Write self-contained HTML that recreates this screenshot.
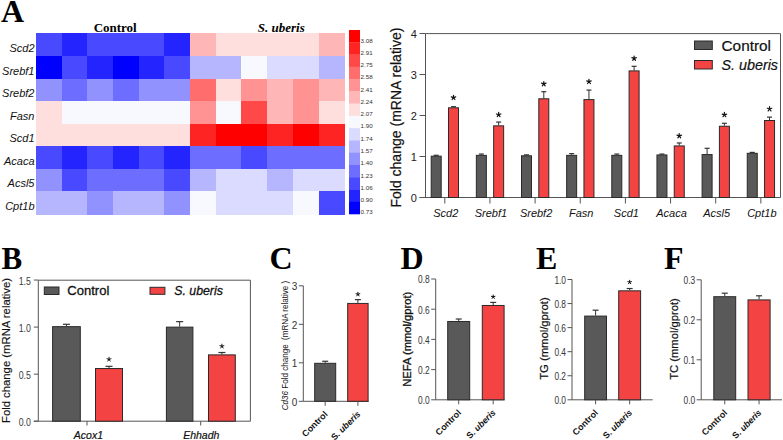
<!DOCTYPE html>
<html><head><meta charset="utf-8"><style>
html,body{margin:0;padding:0;background:#fff;width:783px;height:440px;overflow:hidden}
svg{display:block}
</style></head><body>
<svg width="783" height="440" viewBox="0 0 783 440">
<rect x="0" y="0" width="783" height="440" fill="#fff"/>
<rect x="36.00" y="33.40" width="26.28" height="23.18" fill="#4949ff" shape-rendering="crispEdges"/>
<rect x="61.68" y="33.40" width="26.28" height="23.18" fill="#2424ff" shape-rendering="crispEdges"/>
<rect x="87.37" y="33.40" width="26.28" height="23.18" fill="#4949ff" shape-rendering="crispEdges"/>
<rect x="113.05" y="33.40" width="26.28" height="23.18" fill="#4949ff" shape-rendering="crispEdges"/>
<rect x="138.73" y="33.40" width="26.28" height="23.18" fill="#4949ff" shape-rendering="crispEdges"/>
<rect x="164.42" y="33.40" width="26.28" height="23.18" fill="#2424ff" shape-rendering="crispEdges"/>
<rect x="190.10" y="33.40" width="26.28" height="23.18" fill="#ffb6b6" shape-rendering="crispEdges"/>
<rect x="215.78" y="33.40" width="26.28" height="23.18" fill="#ffdede" shape-rendering="crispEdges"/>
<rect x="241.47" y="33.40" width="26.28" height="23.18" fill="#ffdede" shape-rendering="crispEdges"/>
<rect x="267.15" y="33.40" width="26.28" height="23.18" fill="#ffdede" shape-rendering="crispEdges"/>
<rect x="292.83" y="33.40" width="26.28" height="23.18" fill="#ffdede" shape-rendering="crispEdges"/>
<rect x="318.52" y="33.40" width="26.28" height="23.18" fill="#ffb6b6" shape-rendering="crispEdges"/>
<rect x="36.00" y="55.97" width="26.28" height="23.18" fill="#0000ff" shape-rendering="crispEdges"/>
<rect x="61.68" y="55.97" width="26.28" height="23.18" fill="#4949ff" shape-rendering="crispEdges"/>
<rect x="87.37" y="55.97" width="26.28" height="23.18" fill="#2424ff" shape-rendering="crispEdges"/>
<rect x="113.05" y="55.97" width="26.28" height="23.18" fill="#0000ff" shape-rendering="crispEdges"/>
<rect x="138.73" y="55.97" width="26.28" height="23.18" fill="#2424ff" shape-rendering="crispEdges"/>
<rect x="164.42" y="55.97" width="26.28" height="23.18" fill="#4949ff" shape-rendering="crispEdges"/>
<rect x="190.10" y="55.97" width="26.28" height="23.18" fill="#b6b6ff" shape-rendering="crispEdges"/>
<rect x="215.78" y="55.97" width="26.28" height="23.18" fill="#b6b6ff" shape-rendering="crispEdges"/>
<rect x="241.47" y="55.97" width="26.28" height="23.18" fill="#f8f8ff" shape-rendering="crispEdges"/>
<rect x="267.15" y="55.97" width="26.28" height="23.18" fill="#dbdbff" shape-rendering="crispEdges"/>
<rect x="292.83" y="55.97" width="26.28" height="23.18" fill="#dbdbff" shape-rendering="crispEdges"/>
<rect x="318.52" y="55.97" width="26.28" height="23.18" fill="#b6b6ff" shape-rendering="crispEdges"/>
<rect x="36.00" y="78.55" width="26.28" height="23.18" fill="#9292ff" shape-rendering="crispEdges"/>
<rect x="61.68" y="78.55" width="26.28" height="23.18" fill="#6d6dff" shape-rendering="crispEdges"/>
<rect x="87.37" y="78.55" width="26.28" height="23.18" fill="#9292ff" shape-rendering="crispEdges"/>
<rect x="113.05" y="78.55" width="26.28" height="23.18" fill="#6d6dff" shape-rendering="crispEdges"/>
<rect x="138.73" y="78.55" width="26.28" height="23.18" fill="#9292ff" shape-rendering="crispEdges"/>
<rect x="164.42" y="78.55" width="26.28" height="23.18" fill="#9292ff" shape-rendering="crispEdges"/>
<rect x="190.10" y="78.55" width="26.28" height="23.18" fill="#ff6d6d" shape-rendering="crispEdges"/>
<rect x="215.78" y="78.55" width="26.28" height="23.18" fill="#ffdede" shape-rendering="crispEdges"/>
<rect x="241.47" y="78.55" width="26.28" height="23.18" fill="#ff9292" shape-rendering="crispEdges"/>
<rect x="267.15" y="78.55" width="26.28" height="23.18" fill="#ffb6b6" shape-rendering="crispEdges"/>
<rect x="292.83" y="78.55" width="26.28" height="23.18" fill="#ff9292" shape-rendering="crispEdges"/>
<rect x="318.52" y="78.55" width="26.28" height="23.18" fill="#ffb6b6" shape-rendering="crispEdges"/>
<rect x="36.00" y="101.12" width="26.28" height="23.18" fill="#ffdede" shape-rendering="crispEdges"/>
<rect x="61.68" y="101.12" width="26.28" height="23.18" fill="#f8f8ff" shape-rendering="crispEdges"/>
<rect x="87.37" y="101.12" width="26.28" height="23.18" fill="#f8f8ff" shape-rendering="crispEdges"/>
<rect x="113.05" y="101.12" width="26.28" height="23.18" fill="#f8f8ff" shape-rendering="crispEdges"/>
<rect x="138.73" y="101.12" width="26.28" height="23.18" fill="#f8f8ff" shape-rendering="crispEdges"/>
<rect x="164.42" y="101.12" width="26.28" height="23.18" fill="#f8f8ff" shape-rendering="crispEdges"/>
<rect x="190.10" y="101.12" width="26.28" height="23.18" fill="#ff9292" shape-rendering="crispEdges"/>
<rect x="215.78" y="101.12" width="26.28" height="23.18" fill="#f8f8ff" shape-rendering="crispEdges"/>
<rect x="241.47" y="101.12" width="26.28" height="23.18" fill="#ff4949" shape-rendering="crispEdges"/>
<rect x="267.15" y="101.12" width="26.28" height="23.18" fill="#ffb6b6" shape-rendering="crispEdges"/>
<rect x="292.83" y="101.12" width="26.28" height="23.18" fill="#ff9292" shape-rendering="crispEdges"/>
<rect x="318.52" y="101.12" width="26.28" height="23.18" fill="#ffdede" shape-rendering="crispEdges"/>
<rect x="36.00" y="123.70" width="26.28" height="23.18" fill="#ffdede" shape-rendering="crispEdges"/>
<rect x="61.68" y="123.70" width="26.28" height="23.18" fill="#ffdede" shape-rendering="crispEdges"/>
<rect x="87.37" y="123.70" width="26.28" height="23.18" fill="#ffdede" shape-rendering="crispEdges"/>
<rect x="113.05" y="123.70" width="26.28" height="23.18" fill="#ffdede" shape-rendering="crispEdges"/>
<rect x="138.73" y="123.70" width="26.28" height="23.18" fill="#ffdede" shape-rendering="crispEdges"/>
<rect x="164.42" y="123.70" width="26.28" height="23.18" fill="#ffdede" shape-rendering="crispEdges"/>
<rect x="190.10" y="123.70" width="26.28" height="23.18" fill="#ff2424" shape-rendering="crispEdges"/>
<rect x="215.78" y="123.70" width="26.28" height="23.18" fill="#ff0000" shape-rendering="crispEdges"/>
<rect x="241.47" y="123.70" width="26.28" height="23.18" fill="#ff0000" shape-rendering="crispEdges"/>
<rect x="267.15" y="123.70" width="26.28" height="23.18" fill="#ff2424" shape-rendering="crispEdges"/>
<rect x="292.83" y="123.70" width="26.28" height="23.18" fill="#ff0000" shape-rendering="crispEdges"/>
<rect x="318.52" y="123.70" width="26.28" height="23.18" fill="#ff2424" shape-rendering="crispEdges"/>
<rect x="36.00" y="146.28" width="26.28" height="23.18" fill="#4949ff" shape-rendering="crispEdges"/>
<rect x="61.68" y="146.28" width="26.28" height="23.18" fill="#2424ff" shape-rendering="crispEdges"/>
<rect x="87.37" y="146.28" width="26.28" height="23.18" fill="#4949ff" shape-rendering="crispEdges"/>
<rect x="113.05" y="146.28" width="26.28" height="23.18" fill="#2424ff" shape-rendering="crispEdges"/>
<rect x="138.73" y="146.28" width="26.28" height="23.18" fill="#4949ff" shape-rendering="crispEdges"/>
<rect x="164.42" y="146.28" width="26.28" height="23.18" fill="#2424ff" shape-rendering="crispEdges"/>
<rect x="190.10" y="146.28" width="26.28" height="23.18" fill="#6d6dff" shape-rendering="crispEdges"/>
<rect x="215.78" y="146.28" width="26.28" height="23.18" fill="#6d6dff" shape-rendering="crispEdges"/>
<rect x="241.47" y="146.28" width="26.28" height="23.18" fill="#4949ff" shape-rendering="crispEdges"/>
<rect x="267.15" y="146.28" width="26.28" height="23.18" fill="#6d6dff" shape-rendering="crispEdges"/>
<rect x="292.83" y="146.28" width="26.28" height="23.18" fill="#6d6dff" shape-rendering="crispEdges"/>
<rect x="318.52" y="146.28" width="26.28" height="23.18" fill="#6d6dff" shape-rendering="crispEdges"/>
<rect x="36.00" y="168.85" width="26.28" height="23.18" fill="#9292ff" shape-rendering="crispEdges"/>
<rect x="61.68" y="168.85" width="26.28" height="23.18" fill="#4949ff" shape-rendering="crispEdges"/>
<rect x="87.37" y="168.85" width="26.28" height="23.18" fill="#6d6dff" shape-rendering="crispEdges"/>
<rect x="113.05" y="168.85" width="26.28" height="23.18" fill="#6d6dff" shape-rendering="crispEdges"/>
<rect x="138.73" y="168.85" width="26.28" height="23.18" fill="#6d6dff" shape-rendering="crispEdges"/>
<rect x="164.42" y="168.85" width="26.28" height="23.18" fill="#4949ff" shape-rendering="crispEdges"/>
<rect x="190.10" y="168.85" width="26.28" height="23.18" fill="#b6b6ff" shape-rendering="crispEdges"/>
<rect x="215.78" y="168.85" width="26.28" height="23.18" fill="#dbdbff" shape-rendering="crispEdges"/>
<rect x="241.47" y="168.85" width="26.28" height="23.18" fill="#dbdbff" shape-rendering="crispEdges"/>
<rect x="267.15" y="168.85" width="26.28" height="23.18" fill="#b6b6ff" shape-rendering="crispEdges"/>
<rect x="292.83" y="168.85" width="26.28" height="23.18" fill="#dbdbff" shape-rendering="crispEdges"/>
<rect x="318.52" y="168.85" width="26.28" height="23.18" fill="#dbdbff" shape-rendering="crispEdges"/>
<rect x="36.00" y="191.43" width="26.28" height="23.18" fill="#b6b6ff" shape-rendering="crispEdges"/>
<rect x="61.68" y="191.43" width="26.28" height="23.18" fill="#b6b6ff" shape-rendering="crispEdges"/>
<rect x="87.37" y="191.43" width="26.28" height="23.18" fill="#9292ff" shape-rendering="crispEdges"/>
<rect x="113.05" y="191.43" width="26.28" height="23.18" fill="#b6b6ff" shape-rendering="crispEdges"/>
<rect x="138.73" y="191.43" width="26.28" height="23.18" fill="#b6b6ff" shape-rendering="crispEdges"/>
<rect x="164.42" y="191.43" width="26.28" height="23.18" fill="#9292ff" shape-rendering="crispEdges"/>
<rect x="190.10" y="191.43" width="26.28" height="23.18" fill="#f8f8ff" shape-rendering="crispEdges"/>
<rect x="215.78" y="191.43" width="26.28" height="23.18" fill="#dbdbff" shape-rendering="crispEdges"/>
<rect x="241.47" y="191.43" width="26.28" height="23.18" fill="#dbdbff" shape-rendering="crispEdges"/>
<rect x="267.15" y="191.43" width="26.28" height="23.18" fill="#dbdbff" shape-rendering="crispEdges"/>
<rect x="292.83" y="191.43" width="26.28" height="23.18" fill="#f8f8ff" shape-rendering="crispEdges"/>
<rect x="318.52" y="191.43" width="26.28" height="23.18" fill="#4949ff" shape-rendering="crispEdges"/>
<text x="34.50" y="51.99" font-family='"Liberation Sans", sans-serif' font-size="11" font-weight="normal" font-style="italic" text-anchor="end" fill="#111" >Scd2</text>
<text x="34.50" y="74.56" font-family='"Liberation Sans", sans-serif' font-size="11" font-weight="normal" font-style="italic" text-anchor="end" fill="#111" >Srebf1</text>
<text x="34.50" y="97.14" font-family='"Liberation Sans", sans-serif' font-size="11" font-weight="normal" font-style="italic" text-anchor="end" fill="#111" >Srebf2</text>
<text x="34.50" y="119.71" font-family='"Liberation Sans", sans-serif' font-size="11" font-weight="normal" font-style="italic" text-anchor="end" fill="#111" >Fasn</text>
<text x="34.50" y="142.29" font-family='"Liberation Sans", sans-serif' font-size="11" font-weight="normal" font-style="italic" text-anchor="end" fill="#111" >Scd1</text>
<text x="34.50" y="164.86" font-family='"Liberation Sans", sans-serif' font-size="11" font-weight="normal" font-style="italic" text-anchor="end" fill="#111" >Acaca</text>
<text x="34.50" y="187.44" font-family='"Liberation Sans", sans-serif' font-size="11" font-weight="normal" font-style="italic" text-anchor="end" fill="#111" >Acsl5</text>
<text x="34.50" y="210.01" font-family='"Liberation Sans", sans-serif' font-size="11" font-weight="normal" font-style="italic" text-anchor="end" fill="#111" >Cpt1b</text>
<text x="115.20" y="31.70" font-family='"Liberation Serif", serif' font-size="13" font-weight="bold" font-style="normal" text-anchor="middle" fill="#000" >Control</text>
<text x="281.30" y="31.70" font-family='"Liberation Serif", serif' font-size="13" font-weight="bold" font-style="italic" text-anchor="middle" fill="#000" >S. uberis</text>
<text x="1.00" y="21.60" font-family='"Liberation Serif", serif' font-size="32" font-weight="bold" font-style="normal" text-anchor="start" fill="#000" >A</text>
<rect x="349.00" y="30.00" width="11.00" height="12.57" fill="#ff0000" stroke="none" stroke-width="1"/>
<text x="360.60" y="42.57" font-family='"Liberation Sans", sans-serif' font-size="6.2" font-weight="normal" font-style="normal" text-anchor="start" fill="#333" >3.08</text>
<rect x="349.00" y="42.27" width="11.00" height="12.57" fill="#ff2424" stroke="none" stroke-width="1"/>
<text x="360.60" y="54.83" font-family='"Liberation Sans", sans-serif' font-size="6.2" font-weight="normal" font-style="normal" text-anchor="start" fill="#333" >2.91</text>
<rect x="349.00" y="54.53" width="11.00" height="12.57" fill="#ff4949" stroke="none" stroke-width="1"/>
<text x="360.60" y="67.10" font-family='"Liberation Sans", sans-serif' font-size="6.2" font-weight="normal" font-style="normal" text-anchor="start" fill="#333" >2.75</text>
<rect x="349.00" y="66.80" width="11.00" height="12.57" fill="#ff6d6d" stroke="none" stroke-width="1"/>
<text x="360.60" y="79.37" font-family='"Liberation Sans", sans-serif' font-size="6.2" font-weight="normal" font-style="normal" text-anchor="start" fill="#333" >2.58</text>
<rect x="349.00" y="79.07" width="11.00" height="12.57" fill="#ff9292" stroke="none" stroke-width="1"/>
<text x="360.60" y="91.63" font-family='"Liberation Sans", sans-serif' font-size="6.2" font-weight="normal" font-style="normal" text-anchor="start" fill="#333" >2.41</text>
<rect x="349.00" y="91.33" width="11.00" height="12.57" fill="#ffb6b6" stroke="none" stroke-width="1"/>
<text x="360.60" y="103.90" font-family='"Liberation Sans", sans-serif' font-size="6.2" font-weight="normal" font-style="normal" text-anchor="start" fill="#333" >2.24</text>
<rect x="349.00" y="103.60" width="11.00" height="12.57" fill="#ffdede" stroke="none" stroke-width="1"/>
<text x="360.60" y="116.17" font-family='"Liberation Sans", sans-serif' font-size="6.2" font-weight="normal" font-style="normal" text-anchor="start" fill="#333" >2.07</text>
<rect x="349.00" y="115.87" width="11.00" height="12.57" fill="#f8f8ff" stroke="none" stroke-width="1"/>
<text x="360.60" y="128.43" font-family='"Liberation Sans", sans-serif' font-size="6.2" font-weight="normal" font-style="normal" text-anchor="start" fill="#333" >1.90</text>
<rect x="349.00" y="128.13" width="11.00" height="12.57" fill="#dbdbff" stroke="none" stroke-width="1"/>
<text x="360.60" y="140.70" font-family='"Liberation Sans", sans-serif' font-size="6.2" font-weight="normal" font-style="normal" text-anchor="start" fill="#333" >1.74</text>
<rect x="349.00" y="140.40" width="11.00" height="12.57" fill="#b6b6ff" stroke="none" stroke-width="1"/>
<text x="360.60" y="152.97" font-family='"Liberation Sans", sans-serif' font-size="6.2" font-weight="normal" font-style="normal" text-anchor="start" fill="#333" >1.57</text>
<rect x="349.00" y="152.67" width="11.00" height="12.57" fill="#9292ff" stroke="none" stroke-width="1"/>
<text x="360.60" y="165.23" font-family='"Liberation Sans", sans-serif' font-size="6.2" font-weight="normal" font-style="normal" text-anchor="start" fill="#333" >1.40</text>
<rect x="349.00" y="164.93" width="11.00" height="12.57" fill="#6d6dff" stroke="none" stroke-width="1"/>
<text x="360.60" y="177.50" font-family='"Liberation Sans", sans-serif' font-size="6.2" font-weight="normal" font-style="normal" text-anchor="start" fill="#333" >1.23</text>
<rect x="349.00" y="177.20" width="11.00" height="12.57" fill="#4949ff" stroke="none" stroke-width="1"/>
<text x="360.60" y="189.77" font-family='"Liberation Sans", sans-serif' font-size="6.2" font-weight="normal" font-style="normal" text-anchor="start" fill="#333" >1.06</text>
<rect x="349.00" y="189.47" width="11.00" height="12.57" fill="#2424ff" stroke="none" stroke-width="1"/>
<text x="360.60" y="202.03" font-family='"Liberation Sans", sans-serif' font-size="6.2" font-weight="normal" font-style="normal" text-anchor="start" fill="#333" >0.90</text>
<rect x="349.00" y="201.73" width="11.00" height="12.57" fill="#0000ff" stroke="none" stroke-width="1"/>
<text x="360.60" y="214.30" font-family='"Liberation Sans", sans-serif' font-size="6.2" font-weight="normal" font-style="normal" text-anchor="start" fill="#333" >0.73</text>
<line x1="425.50" y1="33.60" x2="780.50" y2="33.60" stroke="#555555" stroke-width="1"/>
<line x1="425.50" y1="33.60" x2="425.50" y2="197.50" stroke="#555555" stroke-width="1"/>
<line x1="780.50" y1="33.60" x2="780.50" y2="197.50" stroke="#555555" stroke-width="1"/>
<line x1="419.50" y1="197.50" x2="780.50" y2="197.50" stroke="#555555" stroke-width="1"/>
<line x1="419.50" y1="197.50" x2="425.50" y2="197.50" stroke="#555555" stroke-width="1"/>
<text x="416.80" y="202.40" font-family='"Liberation Sans", sans-serif' font-size="11" font-weight="normal" font-style="normal" text-anchor="end" fill="#222" >0</text>
<line x1="419.50" y1="156.50" x2="425.50" y2="156.50" stroke="#555555" stroke-width="1"/>
<text x="416.80" y="161.40" font-family='"Liberation Sans", sans-serif' font-size="11" font-weight="normal" font-style="normal" text-anchor="end" fill="#222" >1</text>
<line x1="419.50" y1="115.50" x2="425.50" y2="115.50" stroke="#555555" stroke-width="1"/>
<text x="416.80" y="120.40" font-family='"Liberation Sans", sans-serif' font-size="11" font-weight="normal" font-style="normal" text-anchor="end" fill="#222" >2</text>
<line x1="419.50" y1="74.50" x2="425.50" y2="74.50" stroke="#555555" stroke-width="1"/>
<text x="416.80" y="79.40" font-family='"Liberation Sans", sans-serif' font-size="11" font-weight="normal" font-style="normal" text-anchor="end" fill="#222" >3</text>
<line x1="419.50" y1="33.50" x2="425.50" y2="33.50" stroke="#555555" stroke-width="1"/>
<text x="416.80" y="38.40" font-family='"Liberation Sans", sans-serif' font-size="11" font-weight="normal" font-style="normal" text-anchor="end" fill="#222" >4</text>
<text x="0.00" y="0.00" font-family='"Liberation Sans", sans-serif' font-size="14" font-weight="normal" font-style="normal" text-anchor="middle" fill="#111" textLength="180" lengthAdjust="spacingAndGlyphs" stroke="#111" stroke-width="0.2" transform="translate(401.3,117.6) rotate(-90)">Fold change (mRNA relative)</text>
<line x1="436.20" y1="155.68" x2="436.20" y2="155.27" stroke="#333" stroke-width="1"/>
<line x1="433.70" y1="155.27" x2="438.70" y2="155.27" stroke="#333" stroke-width="1.2"/>
<rect x="431.20" y="156.18" width="10.00" height="41.32" fill="#595959" stroke="#2a2a2a" stroke-width="1"/>
<line x1="453.50" y1="107.30" x2="453.50" y2="106.69" stroke="#333" stroke-width="1"/>
<line x1="451.00" y1="106.69" x2="456.00" y2="106.69" stroke="#333" stroke-width="1.2"/>
<rect x="448.50" y="107.80" width="10.00" height="89.70" fill="#f44343" stroke="#2a2a2a" stroke-width="1"/>
<path d="M453.50,97.60L453.50,95.25M453.50,97.60L455.73,96.87M453.50,97.60L454.88,99.50M453.50,97.60L452.12,99.50M453.50,97.60L451.27,96.87" stroke="#111" stroke-width="1.2" stroke-linecap="round" fill="none"/>
<line x1="444.80" y1="197.50" x2="444.80" y2="203.50" stroke="#555555" stroke-width="1"/>
<text x="445.80" y="217.00" font-family='"Liberation Sans", sans-serif' font-size="11" font-weight="normal" font-style="italic" text-anchor="middle" fill="#111" >Scd2</text>
<line x1="481.35" y1="154.86" x2="481.35" y2="154.04" stroke="#333" stroke-width="1"/>
<line x1="478.85" y1="154.04" x2="483.85" y2="154.04" stroke="#333" stroke-width="1.2"/>
<rect x="476.35" y="155.36" width="10.00" height="42.14" fill="#595959" stroke="#2a2a2a" stroke-width="1"/>
<line x1="498.65" y1="125.34" x2="498.65" y2="122.06" stroke="#333" stroke-width="1"/>
<line x1="496.15" y1="122.06" x2="501.15" y2="122.06" stroke="#333" stroke-width="1.2"/>
<rect x="493.65" y="125.84" width="10.00" height="71.66" fill="#f44343" stroke="#2a2a2a" stroke-width="1"/>
<path d="M498.65,114.70L498.65,112.35M498.65,114.70L500.88,113.97M498.65,114.70L500.03,116.60M498.65,114.70L497.27,116.60M498.65,114.70L496.42,113.97" stroke="#111" stroke-width="1.2" stroke-linecap="round" fill="none"/>
<line x1="489.95" y1="197.50" x2="489.95" y2="203.50" stroke="#555555" stroke-width="1"/>
<text x="490.95" y="217.00" font-family='"Liberation Sans", sans-serif' font-size="11" font-weight="normal" font-style="italic" text-anchor="middle" fill="#111" >Srebf1</text>
<line x1="526.50" y1="155.27" x2="526.50" y2="154.86" stroke="#333" stroke-width="1"/>
<line x1="524.00" y1="154.86" x2="529.00" y2="154.86" stroke="#333" stroke-width="1.2"/>
<rect x="521.50" y="155.77" width="10.00" height="41.73" fill="#595959" stroke="#2a2a2a" stroke-width="1"/>
<line x1="543.80" y1="98.28" x2="543.80" y2="91.72" stroke="#333" stroke-width="1"/>
<line x1="541.30" y1="91.72" x2="546.30" y2="91.72" stroke="#333" stroke-width="1.2"/>
<rect x="538.80" y="98.78" width="10.00" height="98.72" fill="#f44343" stroke="#2a2a2a" stroke-width="1"/>
<path d="M543.80,83.90L543.80,81.55M543.80,83.90L546.03,83.17M543.80,83.90L545.18,85.80M543.80,83.90L542.42,85.80M543.80,83.90L541.57,83.17" stroke="#111" stroke-width="1.2" stroke-linecap="round" fill="none"/>
<line x1="535.10" y1="197.50" x2="535.10" y2="203.50" stroke="#555555" stroke-width="1"/>
<text x="536.10" y="217.00" font-family='"Liberation Sans", sans-serif' font-size="11" font-weight="normal" font-style="italic" text-anchor="middle" fill="#111" >Srebf2</text>
<line x1="571.65" y1="154.86" x2="571.65" y2="153.63" stroke="#333" stroke-width="1"/>
<line x1="569.15" y1="153.63" x2="574.15" y2="153.63" stroke="#333" stroke-width="1.2"/>
<rect x="566.65" y="155.36" width="10.00" height="42.14" fill="#595959" stroke="#2a2a2a" stroke-width="1"/>
<line x1="588.95" y1="99.10" x2="588.95" y2="90.08" stroke="#333" stroke-width="1"/>
<line x1="586.45" y1="90.08" x2="591.45" y2="90.08" stroke="#333" stroke-width="1.2"/>
<rect x="583.95" y="99.60" width="10.00" height="97.90" fill="#f44343" stroke="#2a2a2a" stroke-width="1"/>
<path d="M588.95,81.60L588.95,79.25M588.95,81.60L591.18,80.87M588.95,81.60L590.33,83.50M588.95,81.60L587.57,83.50M588.95,81.60L586.72,80.87" stroke="#111" stroke-width="1.2" stroke-linecap="round" fill="none"/>
<line x1="580.25" y1="197.50" x2="580.25" y2="203.50" stroke="#555555" stroke-width="1"/>
<text x="581.25" y="217.00" font-family='"Liberation Sans", sans-serif' font-size="11" font-weight="normal" font-style="italic" text-anchor="middle" fill="#111" >Fasn</text>
<line x1="616.80" y1="154.86" x2="616.80" y2="154.04" stroke="#333" stroke-width="1"/>
<line x1="614.30" y1="154.04" x2="619.30" y2="154.04" stroke="#333" stroke-width="1.2"/>
<rect x="611.80" y="155.36" width="10.00" height="42.14" fill="#595959" stroke="#2a2a2a" stroke-width="1"/>
<line x1="634.10" y1="70.40" x2="634.10" y2="66.30" stroke="#333" stroke-width="1"/>
<line x1="631.60" y1="66.30" x2="636.60" y2="66.30" stroke="#333" stroke-width="1.2"/>
<rect x="629.10" y="70.90" width="10.00" height="126.60" fill="#f44343" stroke="#2a2a2a" stroke-width="1"/>
<path d="M634.10,58.40L634.10,56.05M634.10,58.40L636.33,57.67M634.10,58.40L635.48,60.30M634.10,58.40L632.72,60.30M634.10,58.40L631.87,57.67" stroke="#111" stroke-width="1.2" stroke-linecap="round" fill="none"/>
<line x1="625.40" y1="197.50" x2="625.40" y2="203.50" stroke="#555555" stroke-width="1"/>
<text x="626.40" y="217.00" font-family='"Liberation Sans", sans-serif' font-size="11" font-weight="normal" font-style="italic" text-anchor="middle" fill="#111" >Scd1</text>
<line x1="661.95" y1="154.45" x2="661.95" y2="154.04" stroke="#333" stroke-width="1"/>
<line x1="659.45" y1="154.04" x2="664.45" y2="154.04" stroke="#333" stroke-width="1.2"/>
<rect x="656.95" y="154.95" width="10.00" height="42.55" fill="#595959" stroke="#2a2a2a" stroke-width="1"/>
<line x1="679.25" y1="145.43" x2="679.25" y2="142.97" stroke="#333" stroke-width="1"/>
<line x1="676.75" y1="142.97" x2="681.75" y2="142.97" stroke="#333" stroke-width="1.2"/>
<rect x="674.25" y="145.93" width="10.00" height="51.57" fill="#f44343" stroke="#2a2a2a" stroke-width="1"/>
<path d="M679.25,135.90L679.25,133.55M679.25,135.90L681.48,135.17M679.25,135.90L680.63,137.80M679.25,135.90L677.87,137.80M679.25,135.90L677.02,135.17" stroke="#111" stroke-width="1.2" stroke-linecap="round" fill="none"/>
<line x1="670.55" y1="197.50" x2="670.55" y2="203.50" stroke="#555555" stroke-width="1"/>
<text x="671.55" y="217.00" font-family='"Liberation Sans", sans-serif' font-size="11" font-weight="normal" font-style="italic" text-anchor="middle" fill="#111" >Acaca</text>
<line x1="707.10" y1="154.04" x2="707.10" y2="148.30" stroke="#333" stroke-width="1"/>
<line x1="704.60" y1="148.30" x2="709.60" y2="148.30" stroke="#333" stroke-width="1.2"/>
<rect x="702.10" y="154.54" width="10.00" height="42.96" fill="#595959" stroke="#2a2a2a" stroke-width="1"/>
<line x1="724.40" y1="125.75" x2="724.40" y2="123.29" stroke="#333" stroke-width="1"/>
<line x1="721.90" y1="123.29" x2="726.90" y2="123.29" stroke="#333" stroke-width="1.2"/>
<rect x="719.40" y="126.25" width="10.00" height="71.25" fill="#f44343" stroke="#2a2a2a" stroke-width="1"/>
<path d="M724.40,114.80L724.40,112.45M724.40,114.80L726.63,114.07M724.40,114.80L725.78,116.70M724.40,114.80L723.02,116.70M724.40,114.80L722.17,114.07" stroke="#111" stroke-width="1.2" stroke-linecap="round" fill="none"/>
<line x1="715.70" y1="197.50" x2="715.70" y2="203.50" stroke="#555555" stroke-width="1"/>
<text x="716.70" y="217.00" font-family='"Liberation Sans", sans-serif' font-size="11" font-weight="normal" font-style="italic" text-anchor="middle" fill="#111" >Acsl5</text>
<line x1="752.25" y1="152.81" x2="752.25" y2="152.40" stroke="#333" stroke-width="1"/>
<line x1="749.75" y1="152.40" x2="754.75" y2="152.40" stroke="#333" stroke-width="1.2"/>
<rect x="747.25" y="153.31" width="10.00" height="44.19" fill="#595959" stroke="#2a2a2a" stroke-width="1"/>
<line x1="769.55" y1="120.01" x2="769.55" y2="117.14" stroke="#333" stroke-width="1"/>
<line x1="767.05" y1="117.14" x2="772.05" y2="117.14" stroke="#333" stroke-width="1.2"/>
<rect x="764.55" y="120.51" width="10.00" height="76.99" fill="#f44343" stroke="#2a2a2a" stroke-width="1"/>
<path d="M769.55,109.00L769.55,106.65M769.55,109.00L771.78,108.27M769.55,109.00L770.93,110.90M769.55,109.00L768.17,110.90M769.55,109.00L767.32,108.27" stroke="#111" stroke-width="1.2" stroke-linecap="round" fill="none"/>
<line x1="760.85" y1="197.50" x2="760.85" y2="203.50" stroke="#555555" stroke-width="1"/>
<text x="761.85" y="217.00" font-family='"Liberation Sans", sans-serif' font-size="11" font-weight="normal" font-style="italic" text-anchor="middle" fill="#111" >Cpt1b</text>
<rect x="694.50" y="41.00" width="17.80" height="8.50" fill="#595959" stroke="#2a2a2a" stroke-width="1"/>
<rect x="694.50" y="60.50" width="17.80" height="8.50" fill="#f44343" stroke="#2a2a2a" stroke-width="1"/>
<text x="721.50" y="50.60" font-family='"Liberation Sans", sans-serif' font-size="15" font-weight="normal" font-style="normal" text-anchor="start" fill="#111" textLength="49.5" lengthAdjust="spacingAndGlyphs" stroke="#111" stroke-width="0.2" >Control</text>
<text x="721.50" y="70.00" font-family='"Liberation Sans", sans-serif' font-size="15" font-weight="normal" font-style="italic" text-anchor="start" fill="#111" textLength="56.5" lengthAdjust="spacingAndGlyphs" stroke="#111" stroke-width="0.2" >S. uberis</text>
<text x="1.50" y="268.60" font-family='"Liberation Serif", serif' font-size="31" font-weight="bold" font-style="normal" text-anchor="start" fill="#000" >B</text>
<line x1="38.30" y1="280.20" x2="250.40" y2="280.20" stroke="#555555" stroke-width="1"/>
<line x1="38.30" y1="280.20" x2="38.30" y2="421.20" stroke="#555555" stroke-width="1"/>
<line x1="250.40" y1="280.20" x2="250.40" y2="421.20" stroke="#555555" stroke-width="1"/>
<line x1="33.80" y1="421.20" x2="250.40" y2="421.20" stroke="#555555" stroke-width="1"/>
<line x1="33.80" y1="421.20" x2="38.30" y2="421.20" stroke="#555555" stroke-width="1"/>
<text x="30.90" y="426.20" font-family='"Liberation Sans", sans-serif' font-size="10.3" font-weight="normal" font-style="normal" text-anchor="end" fill="#3a3a3a" textLength="12.2" lengthAdjust="spacingAndGlyphs" >0.0</text>
<line x1="33.80" y1="374.15" x2="38.30" y2="374.15" stroke="#555555" stroke-width="1"/>
<text x="30.90" y="379.15" font-family='"Liberation Sans", sans-serif' font-size="10.3" font-weight="normal" font-style="normal" text-anchor="end" fill="#3a3a3a" textLength="12.2" lengthAdjust="spacingAndGlyphs" >0.5</text>
<line x1="33.80" y1="327.10" x2="38.30" y2="327.10" stroke="#555555" stroke-width="1"/>
<text x="30.90" y="332.10" font-family='"Liberation Sans", sans-serif' font-size="10.3" font-weight="normal" font-style="normal" text-anchor="end" fill="#3a3a3a" textLength="12.2" lengthAdjust="spacingAndGlyphs" >1.0</text>
<line x1="33.80" y1="280.05" x2="38.30" y2="280.05" stroke="#555555" stroke-width="1"/>
<text x="30.90" y="285.05" font-family='"Liberation Sans", sans-serif' font-size="10.3" font-weight="normal" font-style="normal" text-anchor="end" fill="#3a3a3a" textLength="12.2" lengthAdjust="spacingAndGlyphs" >1.5</text>
<text x="0.00" y="0.00" font-family='"Liberation Sans", sans-serif' font-size="11.2" font-weight="normal" font-style="normal" text-anchor="middle" fill="#111" textLength="145" lengthAdjust="spacingAndGlyphs" stroke="#111" stroke-width="0.15" transform="translate(10.3,350.5) rotate(-90)">Fold change (mRNA relative)</text>
<line x1="66.45" y1="326.16" x2="66.45" y2="324.28" stroke="#333" stroke-width="1"/>
<line x1="62.95" y1="324.28" x2="69.95" y2="324.28" stroke="#333" stroke-width="1.2"/>
<rect x="52.60" y="326.66" width="27.70" height="94.54" fill="#595959" stroke="#2a2a2a" stroke-width="1"/>
<line x1="109.00" y1="368.03" x2="109.00" y2="366.34" stroke="#333" stroke-width="1"/>
<line x1="105.50" y1="366.34" x2="112.50" y2="366.34" stroke="#333" stroke-width="1.2"/>
<rect x="95.50" y="368.53" width="27.00" height="52.67" fill="#f44343" stroke="#2a2a2a" stroke-width="1"/>
<path d="M109.00,359.40L109.00,357.30M109.00,359.40L111.00,358.75M109.00,359.40L110.23,361.10M109.00,359.40L107.77,361.10M109.00,359.40L107.00,358.75" stroke="#111" stroke-width="1.0" stroke-linecap="round" fill="none"/>
<line x1="179.65" y1="326.63" x2="179.65" y2="321.64" stroke="#333" stroke-width="1"/>
<line x1="176.15" y1="321.64" x2="183.15" y2="321.64" stroke="#333" stroke-width="1.2"/>
<rect x="166.40" y="327.13" width="26.50" height="94.07" fill="#595959" stroke="#2a2a2a" stroke-width="1"/>
<line x1="221.90" y1="354.39" x2="221.90" y2="352.51" stroke="#333" stroke-width="1"/>
<line x1="218.40" y1="352.51" x2="225.40" y2="352.51" stroke="#333" stroke-width="1.2"/>
<rect x="208.50" y="354.89" width="26.80" height="66.31" fill="#f44343" stroke="#2a2a2a" stroke-width="1"/>
<path d="M221.90,346.30L221.90,344.20M221.90,346.30L223.90,345.65M221.90,346.30L223.13,348.00M221.90,346.30L220.67,348.00M221.90,346.30L219.90,345.65" stroke="#111" stroke-width="1.0" stroke-linecap="round" fill="none"/>
<line x1="87.00" y1="421.20" x2="87.00" y2="425.50" stroke="#555555" stroke-width="1"/>
<line x1="200.70" y1="421.20" x2="200.70" y2="425.50" stroke="#555555" stroke-width="1"/>
<text x="88.40" y="439.00" font-family='"Liberation Sans", sans-serif' font-size="10.5" font-weight="normal" font-style="italic" text-anchor="middle" fill="#111" stroke="#111" stroke-width="0.2" >Acox1</text>
<text x="201.30" y="439.00" font-family='"Liberation Sans", sans-serif' font-size="10.5" font-weight="normal" font-style="italic" text-anchor="middle" fill="#111" stroke="#111" stroke-width="0.2" >Ehhadh</text>
<rect x="44.30" y="287.00" width="14.70" height="7.50" fill="#595959" stroke="#2a2a2a" stroke-width="1"/>
<rect x="150.00" y="287.30" width="14.90" height="7.00" fill="#f44343" stroke="#2a2a2a" stroke-width="1"/>
<text x="67.30" y="294.90" font-family='"Liberation Sans", sans-serif' font-size="13" font-weight="normal" font-style="normal" text-anchor="start" fill="#111" textLength="42" lengthAdjust="spacingAndGlyphs" stroke="#111" stroke-width="0.3" >Control</text>
<text x="174.30" y="294.90" font-family='"Liberation Sans", sans-serif' font-size="13" font-weight="normal" font-style="italic" text-anchor="start" fill="#111" textLength="48.5" lengthAdjust="spacingAndGlyphs" stroke="#111" stroke-width="0.3" >S. uberis</text>
<text x="269.50" y="269.20" font-family='"Liberation Serif", serif' font-size="32" font-weight="bold" font-style="normal" text-anchor="start" fill="#000" >C</text>
<line x1="303.30" y1="285.80" x2="303.30" y2="401.30" stroke="#555555" stroke-width="1"/>
<line x1="303.30" y1="401.30" x2="368.60" y2="401.30" stroke="#555555" stroke-width="1"/>
<line x1="298.80" y1="401.30" x2="303.30" y2="401.30" stroke="#555555" stroke-width="1"/>
<text x="297.30" y="405.60" font-family='"Liberation Sans", sans-serif' font-size="10" font-weight="normal" font-style="normal" text-anchor="end" fill="#333" >0</text>
<line x1="298.80" y1="362.80" x2="303.30" y2="362.80" stroke="#555555" stroke-width="1"/>
<text x="297.30" y="367.10" font-family='"Liberation Sans", sans-serif' font-size="10" font-weight="normal" font-style="normal" text-anchor="end" fill="#333" >1</text>
<line x1="298.80" y1="324.30" x2="303.30" y2="324.30" stroke="#555555" stroke-width="1"/>
<text x="297.30" y="328.60" font-family='"Liberation Sans", sans-serif' font-size="10" font-weight="normal" font-style="normal" text-anchor="end" fill="#333" >2</text>
<line x1="298.80" y1="285.80" x2="303.30" y2="285.80" stroke="#555555" stroke-width="1"/>
<text x="297.30" y="290.10" font-family='"Liberation Sans", sans-serif' font-size="10" font-weight="normal" font-style="normal" text-anchor="end" fill="#333" >3</text>
<line x1="325.20" y1="362.80" x2="325.20" y2="361.26" stroke="#333" stroke-width="1"/>
<line x1="322.20" y1="361.26" x2="328.20" y2="361.26" stroke="#333" stroke-width="1.2"/>
<rect x="314.70" y="363.30" width="21.00" height="38.00" fill="#595959" stroke="#2a2a2a" stroke-width="1"/>
<line x1="357.90" y1="302.93" x2="357.90" y2="299.66" stroke="#333" stroke-width="1"/>
<line x1="354.90" y1="299.66" x2="360.90" y2="299.66" stroke="#333" stroke-width="1.2"/>
<rect x="347.70" y="303.43" width="20.40" height="97.87" fill="#f44343" stroke="#2a2a2a" stroke-width="1"/>
<path d="M357.90,294.30L357.90,292.30M357.90,294.30L359.80,293.68M357.90,294.30L359.08,295.92M357.90,294.30L356.72,295.92M357.90,294.30L356.00,293.68" stroke="#111" stroke-width="1.0" stroke-linecap="round" fill="none"/>
<line x1="325.20" y1="401.30" x2="325.20" y2="405.80" stroke="#555555" stroke-width="1"/>
<line x1="357.90" y1="401.30" x2="357.90" y2="405.80" stroke="#555555" stroke-width="1"/>
<text x="0.00" y="0.00" font-family='"Liberation Sans", sans-serif' font-size="8.9" font-weight="bold" font-style="normal" text-anchor="end" fill="#111" textLength="32" lengthAdjust="spacingAndGlyphs" transform="translate(328.2,414.8) rotate(-45)">Control</text>
<text x="0.00" y="0.00" font-family='"Liberation Sans", sans-serif' font-size="8.9" font-weight="bold" font-style="normal" text-anchor="end" fill="#111" textLength="37" lengthAdjust="spacingAndGlyphs" transform="translate(360.9,414.7) rotate(-45)">S. <tspan font-style="italic">uberis</tspan></text>
<text x="0.00" y="0.00" font-family='"Liberation Sans", sans-serif' font-size="8.2" font-weight="normal" font-style="normal" text-anchor="middle" fill="#111" textLength="129.5" lengthAdjust="spacingAndGlyphs" transform="translate(288.2,345.5) rotate(-90)"><tspan font-style="italic">Cd36</tspan> Fold change&#160; (mRNA relative&#160;)</text>
<text x="400.50" y="269.20" font-family='"Liberation Serif", serif' font-size="32" font-weight="bold" font-style="normal" text-anchor="start" fill="#000" >D</text>
<line x1="435.70" y1="279.00" x2="435.70" y2="399.80" stroke="#555555" stroke-width="1"/>
<line x1="435.70" y1="399.80" x2="504.60" y2="399.80" stroke="#555555" stroke-width="1"/>
<line x1="431.20" y1="399.80" x2="435.70" y2="399.80" stroke="#555555" stroke-width="1"/>
<text x="429.70" y="404.10" font-family='"Liberation Sans", sans-serif' font-size="10" font-weight="normal" font-style="normal" text-anchor="end" fill="#333" textLength="11.6" lengthAdjust="spacingAndGlyphs" >0.0</text>
<line x1="431.20" y1="369.60" x2="435.70" y2="369.60" stroke="#555555" stroke-width="1"/>
<text x="429.70" y="373.90" font-family='"Liberation Sans", sans-serif' font-size="10" font-weight="normal" font-style="normal" text-anchor="end" fill="#333" textLength="11.6" lengthAdjust="spacingAndGlyphs" >0.2</text>
<line x1="431.20" y1="339.40" x2="435.70" y2="339.40" stroke="#555555" stroke-width="1"/>
<text x="429.70" y="343.70" font-family='"Liberation Sans", sans-serif' font-size="10" font-weight="normal" font-style="normal" text-anchor="end" fill="#333" textLength="11.6" lengthAdjust="spacingAndGlyphs" >0.4</text>
<line x1="431.20" y1="309.20" x2="435.70" y2="309.20" stroke="#555555" stroke-width="1"/>
<text x="429.70" y="313.50" font-family='"Liberation Sans", sans-serif' font-size="10" font-weight="normal" font-style="normal" text-anchor="end" fill="#333" textLength="11.6" lengthAdjust="spacingAndGlyphs" >0.6</text>
<line x1="431.20" y1="279.00" x2="435.70" y2="279.00" stroke="#555555" stroke-width="1"/>
<text x="429.70" y="283.30" font-family='"Liberation Sans", sans-serif' font-size="10" font-weight="normal" font-style="normal" text-anchor="end" fill="#333" textLength="11.6" lengthAdjust="spacingAndGlyphs" >0.8</text>
<line x1="458.70" y1="320.98" x2="458.70" y2="319.01" stroke="#333" stroke-width="1"/>
<line x1="455.70" y1="319.01" x2="461.70" y2="319.01" stroke="#333" stroke-width="1.2"/>
<rect x="447.70" y="321.48" width="22.00" height="78.32" fill="#595959" stroke="#2a2a2a" stroke-width="1"/>
<line x1="493.20" y1="304.97" x2="493.20" y2="302.41" stroke="#333" stroke-width="1"/>
<line x1="490.20" y1="302.41" x2="496.20" y2="302.41" stroke="#333" stroke-width="1.2"/>
<rect x="482.30" y="305.47" width="21.80" height="94.33" fill="#f44343" stroke="#2a2a2a" stroke-width="1"/>
<path d="M493.20,296.90L493.20,295.00M493.20,296.90L495.01,296.31M493.20,296.90L494.32,298.44M493.20,296.90L492.08,298.44M493.20,296.90L491.39,296.31" stroke="#111" stroke-width="1.0" stroke-linecap="round" fill="none"/>
<line x1="458.70" y1="399.80" x2="458.70" y2="404.30" stroke="#555555" stroke-width="1"/>
<line x1="493.20" y1="399.80" x2="493.20" y2="404.30" stroke="#555555" stroke-width="1"/>
<text x="0.00" y="0.00" font-family='"Liberation Sans", sans-serif' font-size="8.9" font-weight="bold" font-style="normal" text-anchor="end" fill="#111" textLength="32" lengthAdjust="spacingAndGlyphs" transform="translate(461.7,413.3) rotate(-45)">Control</text>
<text x="0.00" y="0.00" font-family='"Liberation Sans", sans-serif' font-size="8.9" font-weight="bold" font-style="normal" text-anchor="end" fill="#111" textLength="37" lengthAdjust="spacingAndGlyphs" transform="translate(496.2,413.2) rotate(-45)">S. <tspan font-style="italic">uberis</tspan></text>
<text x="0.00" y="0.00" font-family='"Liberation Sans", sans-serif' font-size="11" font-weight="normal" font-style="normal" text-anchor="middle" fill="#111" textLength="95" lengthAdjust="spacingAndGlyphs" stroke="#111" stroke-width="0.3" transform="translate(411.3,339.2) rotate(-90)">NEFA (mmol/gprot)</text>
<text x="536.00" y="269.20" font-family='"Liberation Serif", serif' font-size="32" font-weight="bold" font-style="normal" text-anchor="start" fill="#000" >E</text>
<line x1="572.00" y1="279.50" x2="572.00" y2="399.80" stroke="#555555" stroke-width="1"/>
<line x1="572.00" y1="399.80" x2="652.70" y2="399.80" stroke="#555555" stroke-width="1"/>
<line x1="567.50" y1="399.80" x2="572.00" y2="399.80" stroke="#555555" stroke-width="1"/>
<text x="566.00" y="404.10" font-family='"Liberation Sans", sans-serif' font-size="10" font-weight="normal" font-style="normal" text-anchor="end" fill="#333" textLength="11.6" lengthAdjust="spacingAndGlyphs" >0.0</text>
<line x1="567.50" y1="375.74" x2="572.00" y2="375.74" stroke="#555555" stroke-width="1"/>
<text x="566.00" y="380.04" font-family='"Liberation Sans", sans-serif' font-size="10" font-weight="normal" font-style="normal" text-anchor="end" fill="#333" textLength="11.6" lengthAdjust="spacingAndGlyphs" >0.2</text>
<line x1="567.50" y1="351.68" x2="572.00" y2="351.68" stroke="#555555" stroke-width="1"/>
<text x="566.00" y="355.98" font-family='"Liberation Sans", sans-serif' font-size="10" font-weight="normal" font-style="normal" text-anchor="end" fill="#333" textLength="11.6" lengthAdjust="spacingAndGlyphs" >0.4</text>
<line x1="567.50" y1="327.62" x2="572.00" y2="327.62" stroke="#555555" stroke-width="1"/>
<text x="566.00" y="331.92" font-family='"Liberation Sans", sans-serif' font-size="10" font-weight="normal" font-style="normal" text-anchor="end" fill="#333" textLength="11.6" lengthAdjust="spacingAndGlyphs" >0.6</text>
<line x1="567.50" y1="303.56" x2="572.00" y2="303.56" stroke="#555555" stroke-width="1"/>
<text x="566.00" y="307.86" font-family='"Liberation Sans", sans-serif' font-size="10" font-weight="normal" font-style="normal" text-anchor="end" fill="#333" textLength="11.6" lengthAdjust="spacingAndGlyphs" >0.8</text>
<line x1="567.50" y1="279.50" x2="572.00" y2="279.50" stroke="#555555" stroke-width="1"/>
<text x="566.00" y="283.80" font-family='"Liberation Sans", sans-serif' font-size="10" font-weight="normal" font-style="normal" text-anchor="end" fill="#333" textLength="11.6" lengthAdjust="spacingAndGlyphs" >1.0</text>
<line x1="595.60" y1="315.59" x2="595.60" y2="310.18" stroke="#333" stroke-width="1"/>
<line x1="592.60" y1="310.18" x2="598.60" y2="310.18" stroke="#333" stroke-width="1.2"/>
<rect x="584.70" y="316.09" width="21.80" height="83.71" fill="#595959" stroke="#2a2a2a" stroke-width="1"/>
<line x1="629.65" y1="290.33" x2="629.65" y2="288.52" stroke="#333" stroke-width="1"/>
<line x1="626.65" y1="288.52" x2="632.65" y2="288.52" stroke="#333" stroke-width="1.2"/>
<rect x="618.70" y="290.83" width="21.90" height="108.97" fill="#f44343" stroke="#2a2a2a" stroke-width="1"/>
<path d="M629.65,282.20L629.65,280.30M629.65,282.20L631.46,281.61M629.65,282.20L630.77,283.74M629.65,282.20L628.53,283.74M629.65,282.20L627.84,281.61" stroke="#111" stroke-width="1.0" stroke-linecap="round" fill="none"/>
<line x1="595.60" y1="399.80" x2="595.60" y2="404.30" stroke="#555555" stroke-width="1"/>
<line x1="629.65" y1="399.80" x2="629.65" y2="404.30" stroke="#555555" stroke-width="1"/>
<text x="0.00" y="0.00" font-family='"Liberation Sans", sans-serif' font-size="8.9" font-weight="bold" font-style="normal" text-anchor="end" fill="#111" textLength="32" lengthAdjust="spacingAndGlyphs" transform="translate(598.6,413.3) rotate(-45)">Control</text>
<text x="0.00" y="0.00" font-family='"Liberation Sans", sans-serif' font-size="8.9" font-weight="bold" font-style="normal" text-anchor="end" fill="#111" textLength="37" lengthAdjust="spacingAndGlyphs" transform="translate(632.7,413.2) rotate(-45)">S. <tspan font-style="italic">uberis</tspan></text>
<text x="0.00" y="0.00" font-family='"Liberation Sans", sans-serif' font-size="10.8" font-weight="normal" font-style="normal" text-anchor="middle" fill="#111" textLength="82.5" lengthAdjust="spacingAndGlyphs" stroke="#111" stroke-width="0.2" transform="translate(547.5,338.6) rotate(-90)">TG (mmol/gprot)</text>
<text x="664.00" y="269.20" font-family='"Liberation Serif", serif' font-size="32" font-weight="bold" font-style="normal" text-anchor="start" fill="#000" >F</text>
<line x1="701.20" y1="279.80" x2="701.20" y2="399.80" stroke="#555555" stroke-width="1"/>
<line x1="701.20" y1="399.80" x2="782.00" y2="399.80" stroke="#555555" stroke-width="1"/>
<line x1="696.70" y1="399.80" x2="701.20" y2="399.80" stroke="#555555" stroke-width="1"/>
<text x="695.20" y="404.10" font-family='"Liberation Sans", sans-serif' font-size="10" font-weight="normal" font-style="normal" text-anchor="end" fill="#333" textLength="11.6" lengthAdjust="spacingAndGlyphs" >0.0</text>
<line x1="696.70" y1="359.80" x2="701.20" y2="359.80" stroke="#555555" stroke-width="1"/>
<text x="695.20" y="364.10" font-family='"Liberation Sans", sans-serif' font-size="10" font-weight="normal" font-style="normal" text-anchor="end" fill="#333" textLength="11.6" lengthAdjust="spacingAndGlyphs" >0.1</text>
<line x1="696.70" y1="319.80" x2="701.20" y2="319.80" stroke="#555555" stroke-width="1"/>
<text x="695.20" y="324.10" font-family='"Liberation Sans", sans-serif' font-size="10" font-weight="normal" font-style="normal" text-anchor="end" fill="#333" textLength="11.6" lengthAdjust="spacingAndGlyphs" >0.2</text>
<line x1="696.70" y1="279.80" x2="701.20" y2="279.80" stroke="#555555" stroke-width="1"/>
<text x="695.20" y="284.10" font-family='"Liberation Sans", sans-serif' font-size="10" font-weight="normal" font-style="normal" text-anchor="end" fill="#333" textLength="11.6" lengthAdjust="spacingAndGlyphs" >0.3</text>
<line x1="724.75" y1="296.20" x2="724.75" y2="293.20" stroke="#333" stroke-width="1"/>
<line x1="721.75" y1="293.20" x2="727.75" y2="293.20" stroke="#333" stroke-width="1.2"/>
<rect x="713.80" y="296.70" width="21.90" height="103.10" fill="#595959" stroke="#2a2a2a" stroke-width="1"/>
<line x1="759.05" y1="299.40" x2="759.05" y2="295.80" stroke="#333" stroke-width="1"/>
<line x1="756.05" y1="295.80" x2="762.05" y2="295.80" stroke="#333" stroke-width="1.2"/>
<rect x="748.00" y="299.90" width="22.10" height="99.90" fill="#f44343" stroke="#2a2a2a" stroke-width="1"/>
<line x1="724.75" y1="399.80" x2="724.75" y2="404.30" stroke="#555555" stroke-width="1"/>
<line x1="759.05" y1="399.80" x2="759.05" y2="404.30" stroke="#555555" stroke-width="1"/>
<text x="0.00" y="0.00" font-family='"Liberation Sans", sans-serif' font-size="8.9" font-weight="bold" font-style="normal" text-anchor="end" fill="#111" textLength="32" lengthAdjust="spacingAndGlyphs" transform="translate(727.8,413.3) rotate(-45)">Control</text>
<text x="0.00" y="0.00" font-family='"Liberation Sans", sans-serif' font-size="8.9" font-weight="bold" font-style="normal" text-anchor="end" fill="#111" textLength="37" lengthAdjust="spacingAndGlyphs" transform="translate(762.0,413.2) rotate(-45)">S. <tspan font-style="italic">uberis</tspan></text>
<text x="0.00" y="0.00" font-family='"Liberation Sans", sans-serif' font-size="10.8" font-weight="normal" font-style="normal" text-anchor="middle" fill="#111" textLength="81.5" lengthAdjust="spacingAndGlyphs" stroke="#111" stroke-width="0.2" transform="translate(677.5,339.0) rotate(-90)">TC (mmol/gprot)</text>
</svg>
</body></html>
